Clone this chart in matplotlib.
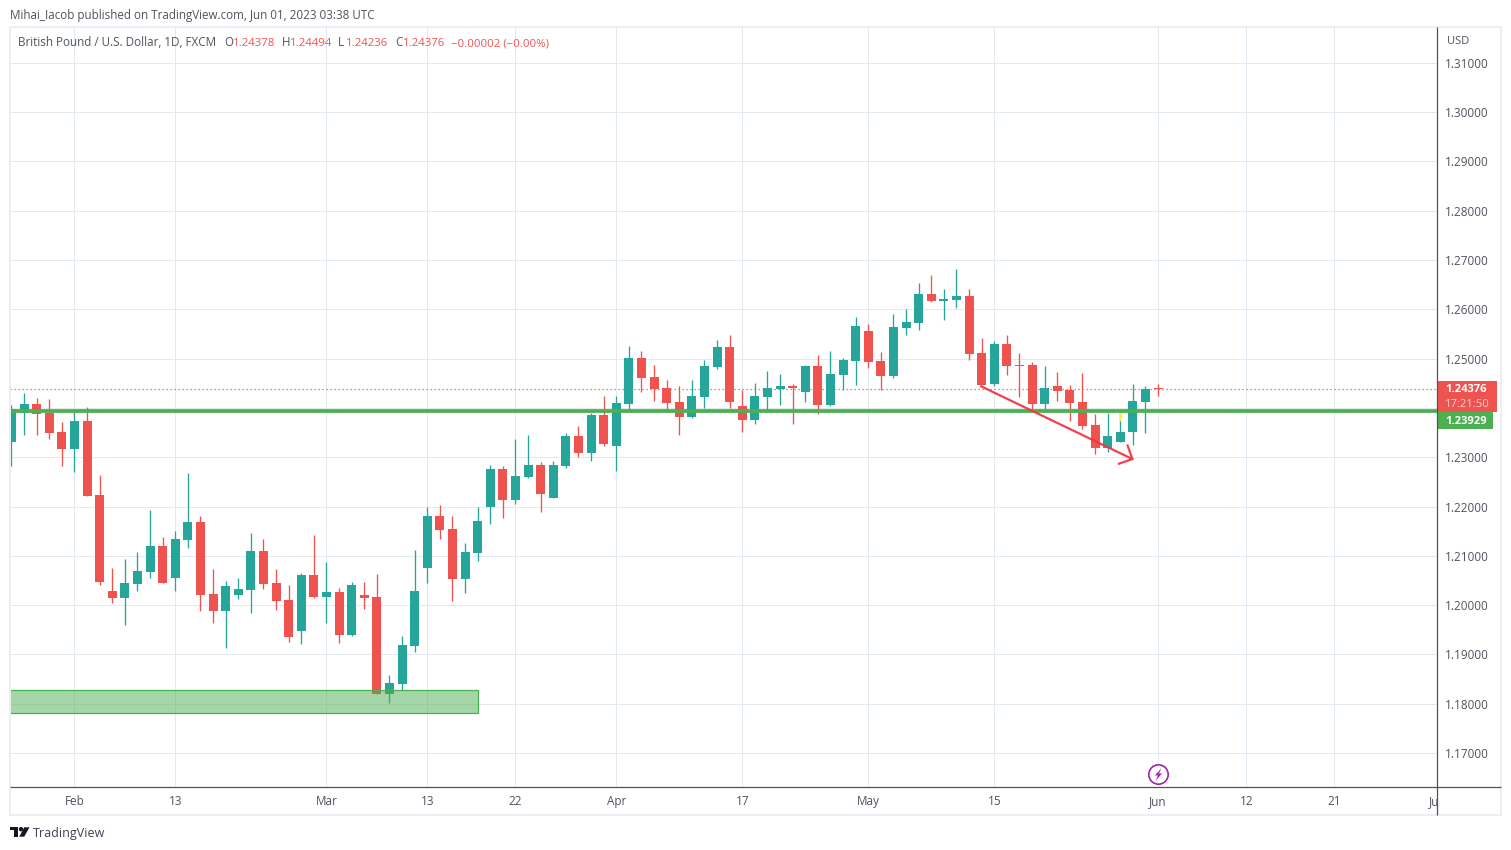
import matplotlib
matplotlib.use("Agg")
import matplotlib.pyplot as plt
from matplotlib.patches import Rectangle, Polygon, Circle, FancyBboxPatch
from matplotlib.lines import Line2D
from matplotlib.transforms import Bbox

plt.rcParams['font.family'] = ['Open Sans', 'DejaVu Sans']

opens = [1.23319,1.23895,1.24071,1.23902,1.23502,1.23157,1.23726,1.22242,1.20291,1.20148,
         1.20433,1.20677,1.21205,1.20555,1.21327,1.21693,1.20230,1.19884,1.20209,1.20311,
         1.21104,1.20453,1.20108,1.19478,1.20616,1.20169,1.20270,1.19396,1.20209,1.20169,
         1.18197,1.18400,1.19173,1.20758,1.21815,1.21551,1.20535,1.21063,1.21998,1.22770,
         1.22140,1.22608,1.22852,1.22181,1.22831,1.23421,1.23096,1.23848,1.23238,1.24071,
         1.25006,1.24620,1.24396,1.24112,1.23807,1.24213,1.24823,1.25230,1.24030,1.23746,
         1.24213,1.24376,1.24437,1.24315,1.24843,1.24051,1.24661,1.24945,1.25555,1.24945,
         1.24640,1.25616,1.25717,1.26307,1.26165,1.26185,1.26266,1.25108,1.24478,1.25291,
         1.24864,1.24864,1.24071,1.24437,1.24356,1.24112,1.23644,1.23197,1.23319,1.23502,
         1.24112,1.24378]
highs = [1.24051,1.24295,1.24193,1.24173,1.23705,1.23949,1.24010,1.22648,1.20758,1.20941,
         1.21083,1.21937,1.21388,1.21510,1.22689,1.21815,1.20738,1.20494,1.20555,1.21470,
         1.21348,1.20738,1.20413,1.20657,1.21429,1.20880,1.20352,1.20474,1.20474,1.20636,
         1.18583,1.19376,1.21124,1.21998,1.22039,1.21815,1.21266,1.21998,1.22852,1.22831,
         1.23360,1.23441,1.22913,1.22933,1.23482,1.23624,1.23888,1.24234,1.24234,1.25250,
         1.25148,1.24864,1.24559,1.24437,1.24559,1.24965,1.25372,1.25474,1.24369,1.24498,
         1.24742,1.24681,1.24478,1.24864,1.25067,1.25148,1.25006,1.25839,1.25697,1.25128,
         1.25900,1.26002,1.26531,1.26693,1.26409,1.26815,1.26409,1.25413,1.25352,1.25474,
         1.25108,1.24925,1.24843,1.24722,1.24457,1.24701,1.23868,1.23888,1.23909,1.24478,
         1.24437,1.24494]
lows = [1.22831,1.23441,1.23441,1.23360,1.22831,1.22709,1.22222,1.20413,1.20047,1.19600,
        1.20291,1.20555,1.20453,1.20291,1.21165,1.19884,1.19640,1.19132,1.20128,1.19844,
        1.20331,1.19905,1.19254,1.19214,1.20148,1.19640,1.19234,1.19376,1.19925,1.18197,
        1.18014,1.18278,1.19051,1.20453,1.21348,1.20088,1.20250,1.20900,1.21652,1.21774,
        1.22059,1.22587,1.21896,1.22181,1.22791,1.23014,1.22933,1.23238,1.22730,1.23949,
        1.24315,1.24132,1.23949,1.23441,1.23787,1.23990,1.24782,1.23990,1.23522,1.23665,
        1.23949,1.24051,1.23665,1.24112,1.23868,1.24030,1.24356,1.24457,1.24803,1.24356,
        1.24600,1.25474,1.25575,1.26144,1.25778,1.26022,1.24965,1.24457,1.24437,1.24661,
        1.24213,1.23949,1.23949,1.24132,1.23726,1.23563,1.23075,1.23116,1.23319,1.23258,
        1.23482,1.24236]
closes = [1.23970,1.24071,1.23868,1.23482,1.23157,1.23726,1.22222,1.20474,1.20148,1.20453,
          1.20697,1.21205,1.20453,1.21348,1.21693,1.20209,1.19884,1.20392,1.20331,1.21104,
          1.20433,1.20088,1.19356,1.20616,1.20169,1.20270,1.19396,1.20413,1.20148,1.18197,
          1.18421,1.19193,1.20291,1.21815,1.21530,1.20535,1.21083,1.21713,1.22770,1.22140,
          1.22628,1.22852,1.22262,1.22852,1.23421,1.23096,1.23848,1.23278,1.24091,1.25006,
          1.24600,1.24376,1.24091,1.23807,1.24234,1.24843,1.25230,1.24112,1.23746,1.24234,
          1.24396,1.24437,1.24396,1.24843,1.24051,1.24681,1.24965,1.25657,1.24925,1.24640,
          1.25636,1.25738,1.26307,1.26165,1.26205,1.26266,1.25087,1.24457,1.25291,1.24843,
          1.24843,1.24071,1.24396,1.24335,1.24091,1.23624,1.23197,1.23421,1.23522,1.24132,
          1.24380,1.24376]

tick_bars = [5, 13, 25, 33, 40, 48, 58, 68, 78, 91, 98, 105, 113]
tick_names = ['Feb', '13', 'Mar', '13', '22', 'Apr', '17', 'May', '15', 'Jun', '12', '21', 'Jul']
price_ticks = [1.17, 1.18, 1.19, 1.20, 1.21, 1.22, 1.23, 1.24, 1.25, 1.26, 1.27, 1.28, 1.29, 1.30, 1.31]
covered_price_tick = 1.24
last_close = 1.24376
level = 1.23929
zone_top, zone_bottom = 1.18276, 1.17809
zone_end_bar = 37.05
arrow_start = (76.94, 1.24440)
arrow_end = (89.07, 1.22950)
yellow_bar, yellow_top, yellow_bottom = 88, 1.23909, 1.23727

RED = '#EF5350'
TEAL = '#26A69A'
GREEN = '#4CAF50'
GRID = '#E1EAF0'
TEXT = '#50535E'
DARK = '#50535E'
FRAME = '#ECEEF3'

W, H = 1511, 850
fig = plt.figure(figsize=(W / 100, H / 100), dpi=100, facecolor='white')

def fx(px):
    return px / W

def fy(py):
    return 1 - py / H

ax = fig.add_axes([fx(10), fy(787), fx(1437 - 10), fy(27) - fy(787)])
ax.set_xlim(-0.119, 113.135)
ax.set_ylim(1.16311, 1.31727)
for s in ax.spines.values():
    s.set_visible(False)

# grid and ticks
ax.set_axisbelow(True)
ax.set_xticks(tick_bars)
ax.set_xticklabels(tick_names)
ax.set_yticks(price_ticks)
ax.set_yticklabels(['' if p == covered_price_tick else f'{p:.5f}' for p in price_ticks])
ax.yaxis.tick_right()
ax.grid(True, color=GRID, lw=0.72)
ax.tick_params(length=0, labelsize=8.5, colors=TEXT)
ax.tick_params(axis='y', pad=5.5)
ax.tick_params(axis='x', pad=5.5)
ax.xaxis.get_gridlines()[-1].set_visible(False)
ax.get_xticklabels()[-1].set_clip_box(Bbox([[0, 0], [1437, 850]]))
ax.get_xticklabels()[-1].set_clip_on(True)

# candles
x = list(range(len(opens)))
colors = [TEAL if c >= o else RED for o, c in zip(opens, closes)]
ax.vlines(x, lows, highs, colors=colors, lw=0.95, zorder=3)
ax.vlines([yellow_bar], [yellow_bottom], [yellow_top], colors='#FFEB3B', lw=0.95, zorder=3.2)
bottoms = [min(o, c) for o, c in zip(opens, closes)]
heights = [max(abs(c - o), 0.00024) for o, c in zip(opens, closes)]
ax.bar(x, heights, bottom=bottoms, width=0.71, color=colors, linewidth=0, zorder=4)

# last price dotted line
ax.axhline(last_close, color=RED, lw=0.9, ls=(0, (1, 2.2)), zorder=2.5)

# zone
ax.add_patch(Rectangle((-5, zone_bottom), zone_end_bar + 5, zone_top - zone_bottom,
                       facecolor=GREEN, alpha=0.5, edgecolor='none', zorder=5))
ax.add_patch(Rectangle((-5, zone_bottom), zone_end_bar + 5, zone_top - zone_bottom,
                       facecolor='none', edgecolor=GREEN, lw=0.9, zorder=5.1))

# level
ax.axhline(level, color=GREEN, lw=2.7, zorder=6)

# arrow
ax.annotate('', xy=arrow_end, xytext=arrow_start,
            arrowprops=dict(arrowstyle='->,head_length=0.74,head_width=0.74', color='#F23645',
                            lw=1.6, shrinkA=0, shrinkB=0, mutation_scale=10, alpha=0.95),
            zorder=7)

# chrome
def hline(py, x0, x1, color, lw):
    fig.add_artist(Line2D([fx(x0), fx(x1)], [fy(py), fy(py)], color=color, lw=lw,
                          transform=fig.transFigure, solid_capstyle='butt'))

def vline(px, y0, y1, color, lw):
    fig.add_artist(Line2D([fx(px), fx(px)], [fy(y0), fy(y1)], color=color, lw=lw,
                          transform=fig.transFigure, solid_capstyle='butt'))

hline(27, 9, 1502, FRAME, 1.4)
hline(815, 9, 1502, FRAME, 1.4)
vline(10, 27, 815, FRAME, 1.4)
vline(1501, 27, 815, FRAME, 1.4)
hline(787, 10, 1501, DARK, 0.9)
vline(1437, 27, 815, DARK, 0.9)

def txt(px, py, s, color=TEXT, size=8.6, weight='normal', ha='left', va='center'):
    return fig.text(fx(px), fy(py), s, color=color, fontsize=size, fontweight=weight,
                    ha=ha, va=va)

txt(10, 15, 'Mihai_Iacob published on TradingView.com, Jun 01, 2023 03:38 UTC', size=8.35)
LEGEND_BASE = 46
txt(18, LEGEND_BASE, 'British Pound / U.S. Dollar, 1D, FXCM', size=8.4, va='baseline')
for px, lab, vx, val in [(224, 'O', 233, '1.24378'), (282, 'H', 290, '1.24494'),
                         (338, 'L', 346, '1.24236'), (395, 'C', 403, '1.24376')]:
    txt(px, LEGEND_BASE, lab, size=8.3, va='baseline')
    txt(vx, LEGEND_BASE, val, color=RED, size=8.2, va='baseline')
txt(451, LEGEND_BASE, '\u22120.00002 (\u22120.00%)', color=RED, size=8.2, va='baseline')
txt(1447, 41, 'USD', size=8.0)

# price labels
fig.add_artist(FancyBboxPatch((fx(1437), fy(411.7)), fx(59.5), fy(381) - fy(411.7),
                              boxstyle='square,pad=0', facecolor=RED, edgecolor='none',
                              transform=fig.transFigure))
fig.add_artist(FancyBboxPatch((fx(1437), fy(429)), fx(55.5), fy(412) - fy(429),
                              boxstyle='square,pad=0', facecolor=GREEN, edgecolor='none',
                              transform=fig.transFigure))
txt(1445, 390, f'{last_close:.5f}', color='white', weight='bold', size=8.1)
txt(1445, 404.5, '17:21:50', color='#FBD0CF', size=8.1)
txt(1445, 421, f'{level:.5f}', color='white', weight='bold', size=8.1)

# lightning icon and logo
overlay = fig.add_axes([0, 0, 1, 1], facecolor='none', zorder=20)
overlay.set_xlim(0, W)
overlay.set_ylim(H, 0)
overlay.axis('off')
overlay.add_patch(Circle((1158.5, 774.5), 9.7, facecolor='white', edgecolor='#9C27B0', lw=1.2))
overlay.add_patch(Polygon([(1161.5, 768), (1155, 775.5), (1158, 775.5), (1155.5, 781),
                           (1162, 773.5), (1159, 773.5)], closed=True, facecolor='#9C27B0',
                          edgecolor='none'))
overlay.add_patch(Polygon([(10, 827.3), (18.3, 827.3), (18.3, 836.7), (14, 836.7), (14, 830.3), (10, 830.3)],
                          closed=True, facecolor='#131722', edgecolor='none'))
overlay.add_patch(Circle((21, 829.2), 2.2, facecolor='#131722', edgecolor='none'))
overlay.add_patch(Polygon([(24.3, 827.3), (29.5, 827.3), (24.2, 836.7), (19.2, 836.7)],
                          closed=True, facecolor='#131722', edgecolor='none'))
txt(33, 833, 'TradingView', size=9.0, color='#3d4150')

fig.savefig('out.png', dpi=100, facecolor='white')
